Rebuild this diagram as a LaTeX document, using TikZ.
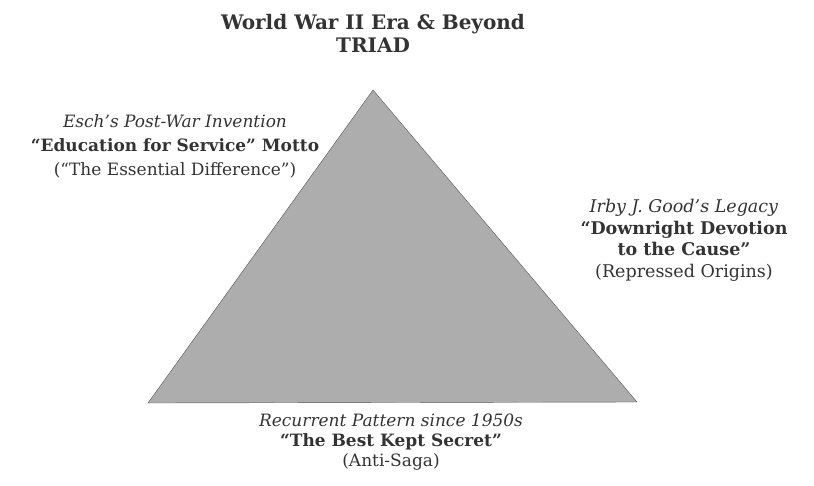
\documentclass[tikz,border=0pt]{standalone}
\usepackage{fontspec}
\setmainfont{DejaVu Serif}
\definecolor{tinta}{HTML}{333333}
\definecolor{cinza}{HTML}{ADADAD}
\definecolor{borda}{HTML}{555555}
\begin{document}
\begin{tikzpicture}[x=1pt,y=-1pt,
  rotulo/.style={align=center,inner sep=0pt,anchor=north,text=tinta,
    font=\fontsize{17}{22}\selectfont}]
\useasboundingbox (0,0) rectangle (814,485);

% triângulo
\coordinate (topo) at (373,90);
\coordinate (esq) at (148,403);
\coordinate (dir) at (637,402);
\fill[cinza,draw=borda,thin] (topo) -- (dir) -- (esq) -- cycle;

% título
\node[rotulo,font=\bfseries\fontsize{20}{23}\selectfont] (titulo) at (373,14)
  {World War II Era \& Beyond\\TRIAD};

% vértice esquerdo
\node[rotulo,font=\fontsize{17}{24}\selectfont] (esch) at (175,114)
  {\textit{Esch’s Post-War Invention}\\
   \textbf{“Education for Service” Motto}\\
   (“The Essential Difference”)};

% vértice direito
\node[rotulo,font=\fontsize{17.5}{21.5}\selectfont] (good) at (684,199)
  {\textit{Irby J. Good’s Legacy}\\
   \textbf{“Downright Devotion}\\
   \textbf{to the Cause”}\\
   (Repressed Origins)};

% base
\node[rotulo,font=\fontsize{17}{20}\selectfont] (segredo) at (391,414)
  {\textit{Recurrent Pattern since 1950s}\\
   \textbf{“The Best Kept Secret”}\\
   (Anti-Saga)};

\end{tikzpicture}
\end{document}
